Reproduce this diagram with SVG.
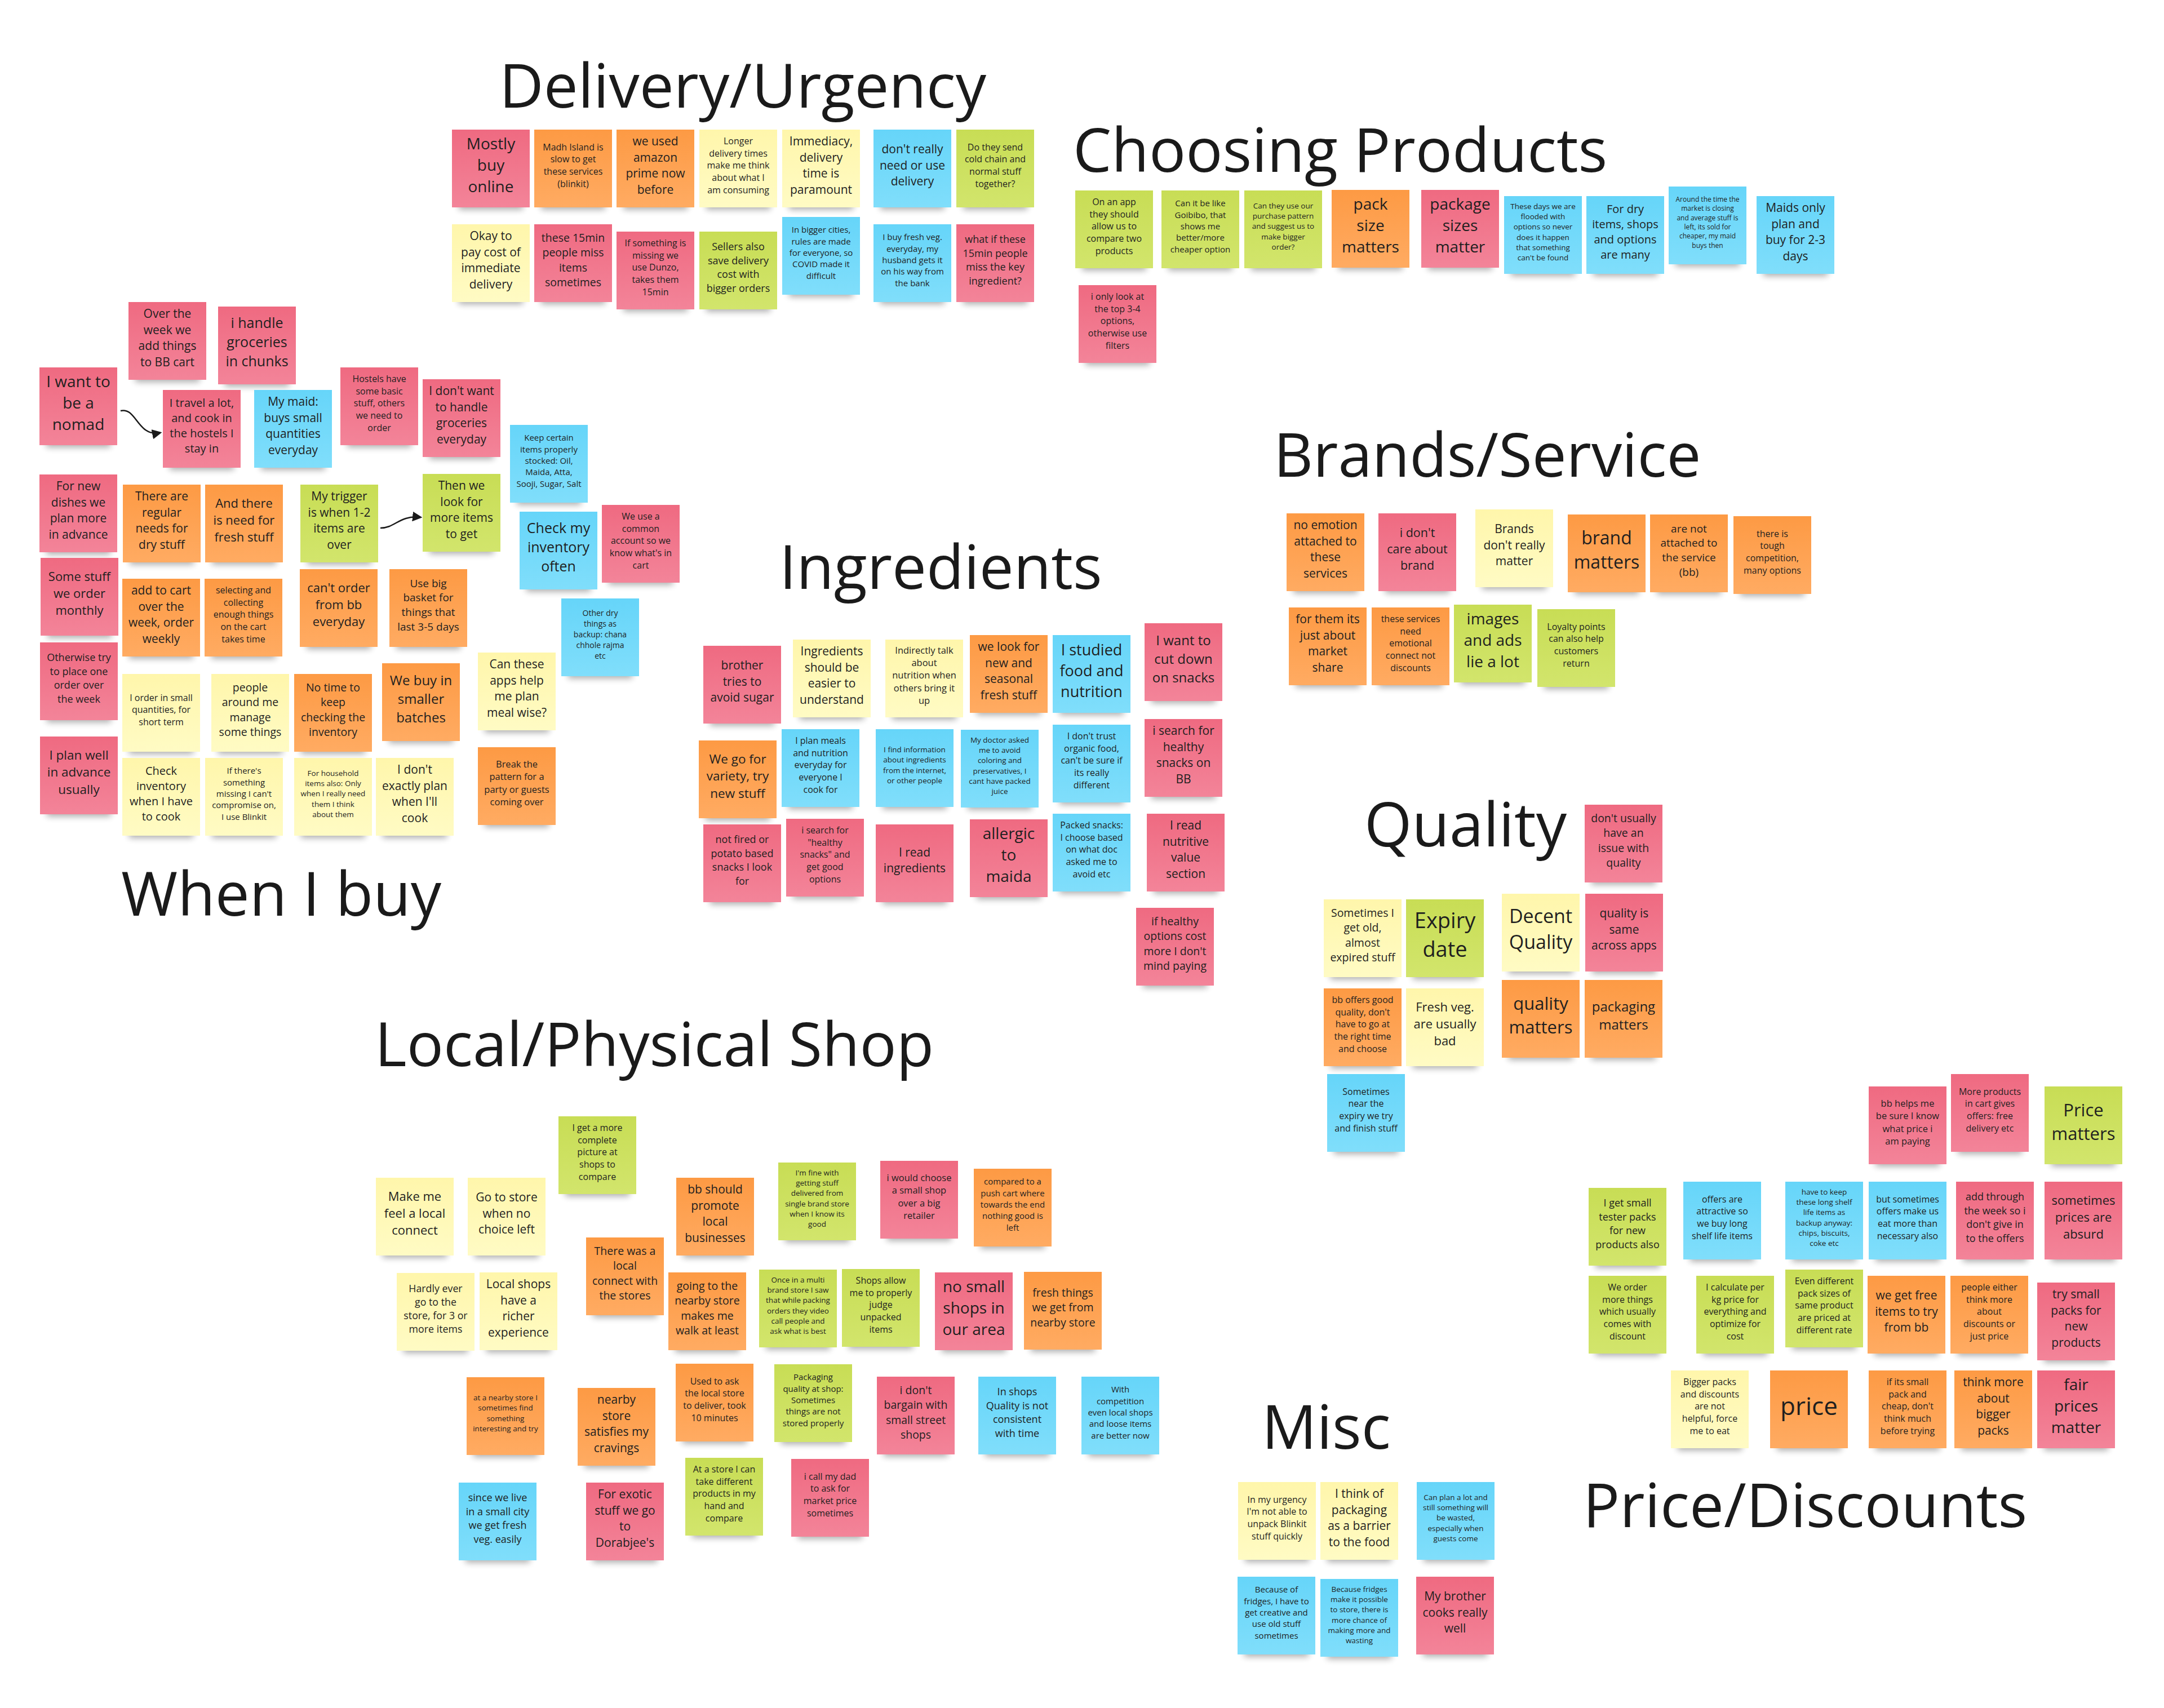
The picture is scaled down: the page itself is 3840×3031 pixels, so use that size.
<svg xmlns="http://www.w3.org/2000/svg" xmlns:xlink="http://www.w3.org/1999/xlink" width="3840" height="3031" viewBox="0 0 3840 3031">
<defs>
<linearGradient id="gR" x1="0" y1="0" x2="0" y2="1"><stop offset="0" stop-color="#ef6a81"/><stop offset="1" stop-color="#f38499"/></linearGradient>
<linearGradient id="gO" x1="0" y1="0" x2="0" y2="1"><stop offset="0" stop-color="#fd9a44"/><stop offset="1" stop-color="#ffab62"/></linearGradient>
<linearGradient id="gY" x1="0" y1="0" x2="0" y2="1"><stop offset="0" stop-color="#fff6ab"/><stop offset="1" stop-color="#fffbc4"/></linearGradient>
<linearGradient id="gG" x1="0" y1="0" x2="0" y2="1"><stop offset="0" stop-color="#c8dd55"/><stop offset="1" stop-color="#d2e56c"/></linearGradient>
<linearGradient id="gB" x1="0" y1="0" x2="0" y2="1"><stop offset="0" stop-color="#66d5f9"/><stop offset="1" stop-color="#80defb"/></linearGradient>
<filter id="blur" x="-20%" y="-100%" width="140%" height="300%"><feGaussianBlur stdDeviation="6"/></filter>
<rect id="sh" x="12" y="112" width="114" height="30" fill="#000" opacity="0.32" filter="url(#blur)"/>
<marker id="ah" viewBox="0 0 10 10" refX="8" refY="5" markerWidth="7" markerHeight="7" orient="auto" markerUnits="strokeWidth"><path d="M0,0 L10,5 L0,10 z" fill="#1a1a1a"/></marker>
</defs>
<style>
.R{fill:url(#gR)}.O{fill:url(#gO)}.Y{fill:url(#gY)}.G{fill:url(#gG)}.B{fill:url(#gB)}
text{font-family:"Open Sans","Noto Sans","Liberation Sans",sans-serif;fill:#1f1f1f;text-anchor:middle}
.title{font-size:108.5px;text-anchor:start;fill:#1a1a1a}
.c{fill:none;stroke:#1a1a1a;stroke-width:2.5;marker-end:url(#ah)}
</style>
<rect width="3840" height="3031" fill="#ffffff"/>

<g id="titles">
<text class="title" x="886" y="191">Delivery/Urgency</text>
<text class="title" x="1904" y="305">Choosing Products</text>
<text class="title" x="2260" y="846">Brands/Service</text>
<text class="title" x="1383" y="1045">Ingredients</text>
<text class="title" x="215" y="1625">When I buy</text>
<text class="title" x="2421" y="1502">Quality</text>
<text class="title" x="665" y="1892">Local/Physical Shop</text>
<text class="title" x="2239" y="2571">Misc</text>
<text class="title" x="2809" y="2710">Price/Discounts</text>
</g>

<g id="connectors">
<path class="c" d="M214,729 C242,722 244,776 284,768"/>
<path class="c" d="M675,937 C702,937 708,914 746,918"/>
</g>

<g id="delivery">
<g id="d1" transform="translate(802,230)"><use href="#sh"/><rect class="R" width="138" height="138"/><text x="69" y="64" font-size="28"><tspan x="69" dy="-1.03em">Mostly</tspan><tspan x="69" dy="1.36em">buy</tspan><tspan x="69" dy="1.36em">online</tspan></text></g>
<g id="d2" transform="translate(948,230)"><use href="#sh"/><rect class="O" width="138" height="138"/><text x="69" y="64" font-size="16"><tspan x="69" dy="-1.71em">Madh Island is</tspan><tspan x="69" dy="1.36em">slow to get</tspan><tspan x="69" dy="1.36em">these services</tspan><tspan x="69" dy="1.36em">(blinkit)</tspan></text></g>
<g id="d3" transform="translate(1094,230)"><use href="#sh"/><rect class="O" width="138" height="138"/><text x="69" y="64" font-size="21"><tspan x="69" dy="-1.71em">we used</tspan><tspan x="69" dy="1.36em">amazon</tspan><tspan x="69" dy="1.36em">prime now</tspan><tspan x="69" dy="1.36em">before</tspan></text></g>
<g id="d4" transform="translate(1241,230)"><use href="#sh"/><rect class="Y" width="138" height="138"/><text x="69" y="64" font-size="16"><tspan x="69" dy="-2.39em">Longer</tspan><tspan x="69" dy="1.36em">delivery times</tspan><tspan x="69" dy="1.36em">make me think</tspan><tspan x="69" dy="1.36em">about what I</tspan><tspan x="69" dy="1.36em">am consuming</tspan></text></g>
<g id="d5" transform="translate(1388,230)"><use href="#sh"/><rect class="Y" width="138" height="138"/><text x="69" y="64" font-size="21"><tspan x="69" dy="-1.71em">Immediacy,</tspan><tspan x="69" dy="1.36em">delivery</tspan><tspan x="69" dy="1.36em">time is</tspan><tspan x="69" dy="1.36em">paramount</tspan></text></g>
<g id="d6" transform="translate(1550,230)"><use href="#sh"/><rect class="B" width="138" height="138"/><text x="69" y="64" font-size="21"><tspan x="69" dy="-1.03em">don't really</tspan><tspan x="69" dy="1.36em">need or use</tspan><tspan x="69" dy="1.36em">delivery</tspan></text></g>
<g id="d7" transform="translate(1697,230)"><use href="#sh"/><rect class="G" width="138" height="138"/><text x="69" y="64" font-size="16"><tspan x="69" dy="-1.71em">Do they send</tspan><tspan x="69" dy="1.36em">cold chain and</tspan><tspan x="69" dy="1.36em">normal stuff</tspan><tspan x="69" dy="1.36em">together?</tspan></text></g>
<g id="d8" transform="translate(802,398)"><use href="#sh"/><rect class="Y" width="138" height="138"/><text x="69" y="64" font-size="21"><tspan x="69" dy="-1.71em">Okay  to</tspan><tspan x="69" dy="1.36em">pay cost of</tspan><tspan x="69" dy="1.36em">immediate</tspan><tspan x="69" dy="1.36em">delivery</tspan></text></g>
<g id="d9" transform="translate(948,398)"><use href="#sh"/><rect class="R" width="138" height="138"/><text x="69" y="64" font-size="19.5"><tspan x="69" dy="-1.71em">these 15min</tspan><tspan x="69" dy="1.36em">people miss</tspan><tspan x="69" dy="1.36em">items</tspan><tspan x="69" dy="1.36em">sometimes</tspan></text></g>
<g id="d10" transform="translate(1094,411)"><use href="#sh"/><rect class="R" width="138" height="138"/><text x="69" y="64" font-size="16"><tspan x="69" dy="-2.39em">If something is</tspan><tspan x="69" dy="1.36em">missing we</tspan><tspan x="69" dy="1.36em">use Dunzo,</tspan><tspan x="69" dy="1.36em">takes them</tspan><tspan x="69" dy="1.36em">15min</tspan></text></g>
<g id="d11" transform="translate(1241,411)"><use href="#sh"/><rect class="G" width="138" height="138"/><text x="69" y="64" font-size="18"><tspan x="69" dy="-1.71em">Sellers also</tspan><tspan x="69" dy="1.36em">save delivery</tspan><tspan x="69" dy="1.36em">cost with</tspan><tspan x="69" dy="1.36em">bigger orders</tspan></text></g>
<g id="d12" transform="translate(1388,385)"><use href="#sh"/><rect class="B" width="138" height="138"/><text x="69" y="64" font-size="15"><tspan x="69" dy="-2.39em">In bigger cities,</tspan><tspan x="69" dy="1.36em">rules are made</tspan><tspan x="69" dy="1.36em">for everyone, so</tspan><tspan x="69" dy="1.36em">COVID made it</tspan><tspan x="69" dy="1.36em">difficult</tspan></text></g>
<g id="d13" transform="translate(1550,398)"><use href="#sh"/><rect class="B" width="138" height="138"/><text x="69" y="64" font-size="15"><tspan x="69" dy="-2.39em">I buy fresh veg.</tspan><tspan x="69" dy="1.36em">everyday, my</tspan><tspan x="69" dy="1.36em">husband gets it</tspan><tspan x="69" dy="1.36em">on his way from</tspan><tspan x="69" dy="1.36em">the bank</tspan></text></g>
<g id="d14" transform="translate(1697,398)"><use href="#sh"/><rect class="R" width="138" height="138"/><text x="69" y="64" font-size="18"><tspan x="69" dy="-1.71em">what if these</tspan><tspan x="69" dy="1.36em">15min people</tspan><tspan x="69" dy="1.36em">miss the key</tspan><tspan x="69" dy="1.36em">ingredient?</tspan></text></g>
</g>

<g id="choosing">
<g id="c1" transform="translate(1908,338)"><use href="#sh"/><rect class="G" width="138" height="138"/><text x="69" y="64" font-size="16"><tspan x="69" dy="-2.39em">On an app</tspan><tspan x="69" dy="1.36em">they should</tspan><tspan x="69" dy="1.36em">allow us to</tspan><tspan x="69" dy="1.36em">compare two</tspan><tspan x="69" dy="1.36em">products</tspan></text></g>
<g id="c2" transform="translate(2061,338)"><use href="#sh"/><rect class="G" width="138" height="138"/><text x="69" y="64" font-size="15"><tspan x="69" dy="-2.39em">Can it be like</tspan><tspan x="69" dy="1.36em">Goibibo, that</tspan><tspan x="69" dy="1.36em">shows me</tspan><tspan x="69" dy="1.36em">better/more</tspan><tspan x="69" dy="1.36em">cheaper option</tspan></text></g>
<g id="c3" transform="translate(2208,338)"><use href="#sh"/><rect class="G" width="138" height="138"/><text x="69" y="64" font-size="13.5"><tspan x="69" dy="-2.39em">Can they use our</tspan><tspan x="69" dy="1.36em">purchase pattern</tspan><tspan x="69" dy="1.36em">and suggest us to</tspan><tspan x="69" dy="1.36em">make bigger</tspan><tspan x="69" dy="1.36em">order?</tspan></text></g>
<g id="c4" transform="translate(2363,337)"><use href="#sh"/><rect class="O" width="138" height="138"/><text x="69" y="64" font-size="28"><tspan x="69" dy="-1.03em">pack</tspan><tspan x="69" dy="1.36em">size</tspan><tspan x="69" dy="1.36em">matters</tspan></text></g>
<g id="c5" transform="translate(2522,337)"><use href="#sh"/><rect class="R" width="138" height="138"/><text x="69" y="64" font-size="28"><tspan x="69" dy="-1.03em">package</tspan><tspan x="69" dy="1.36em">sizes</tspan><tspan x="69" dy="1.36em">matter</tspan></text></g>
<g id="c6" transform="translate(2669,348)"><use href="#sh"/><rect class="B" width="138" height="138"/><text x="69" y="64" font-size="13.5"><tspan x="69" dy="-3.07em">These days we are</tspan><tspan x="69" dy="1.36em">flooded with</tspan><tspan x="69" dy="1.36em">options so never</tspan><tspan x="69" dy="1.36em">does it happen</tspan><tspan x="69" dy="1.36em">that something</tspan><tspan x="69" dy="1.36em">can't be found</tspan></text></g>
<g id="c7" transform="translate(2815,348)"><use href="#sh"/><rect class="B" width="138" height="138"/><text x="69" y="64" font-size="20"><tspan x="69" dy="-1.71em">For dry</tspan><tspan x="69" dy="1.36em">items, shops</tspan><tspan x="69" dy="1.36em">and options</tspan><tspan x="69" dy="1.36em">are many</tspan></text></g>
<g id="c8" transform="translate(2961,331)"><use href="#sh"/><rect class="B" width="138" height="138"/><text x="69" y="64" font-size="12"><tspan x="69" dy="-3.07em">Around the time the</tspan><tspan x="69" dy="1.36em">market is closing</tspan><tspan x="69" dy="1.36em">and average stuff is</tspan><tspan x="69" dy="1.36em">left, its sold for</tspan><tspan x="69" dy="1.36em">cheaper, my maid</tspan><tspan x="69" dy="1.36em">buys then</tspan></text></g>
<g id="c9" transform="translate(3117,348)"><use href="#sh"/><rect class="B" width="138" height="138"/><text x="69" y="64" font-size="21"><tspan x="69" dy="-1.71em">Maids only</tspan><tspan x="69" dy="1.36em">plan and</tspan><tspan x="69" dy="1.36em">buy for 2-3</tspan><tspan x="69" dy="1.36em">days</tspan></text></g>
<g id="c10" transform="translate(1914,506)"><use href="#sh"/><rect class="R" width="138" height="138"/><text x="69" y="64" font-size="16"><tspan x="69" dy="-2.39em">i only look at</tspan><tspan x="69" dy="1.36em">the top 3-4</tspan><tspan x="69" dy="1.36em">options,</tspan><tspan x="69" dy="1.36em">otherwise use</tspan><tspan x="69" dy="1.36em">filters</tspan></text></g>
</g>

<g id="whenibuy">
<g id="w1" transform="translate(228,536)"><use href="#sh"/><rect class="R" width="138" height="138"/><text x="69" y="64" font-size="21"><tspan x="69" dy="-1.71em">Over the</tspan><tspan x="69" dy="1.36em">week we</tspan><tspan x="69" dy="1.36em">add things</tspan><tspan x="69" dy="1.36em">to BB cart</tspan></text></g>
<g id="w2" transform="translate(387,544)"><use href="#sh"/><rect class="R" width="138" height="138"/><text x="69" y="64" font-size="25"><tspan x="69" dy="-1.03em">i handle</tspan><tspan x="69" dy="1.36em">groceries</tspan><tspan x="69" dy="1.36em">in chunks</tspan></text></g>
<g id="w3" transform="translate(70,652)"><use href="#sh"/><rect class="R" width="138" height="138"/><text x="69" y="64" font-size="28"><tspan x="69" dy="-1.03em">I want to</tspan><tspan x="69" dy="1.36em">be a</tspan><tspan x="69" dy="1.36em">nomad</tspan></text></g>
<g id="w4" transform="translate(289,692)"><use href="#sh"/><rect class="R" width="138" height="138"/><text x="69" y="64" font-size="20"><tspan x="69" dy="-1.71em">I travel a lot,</tspan><tspan x="69" dy="1.36em">and cook in</tspan><tspan x="69" dy="1.36em">the hostels I</tspan><tspan x="69" dy="1.36em">stay in</tspan></text></g>
<g id="w5" transform="translate(451,692)"><use href="#sh"/><rect class="B" width="138" height="138"/><text x="69" y="64" font-size="21"><tspan x="69" dy="-1.71em">My maid:</tspan><tspan x="69" dy="1.36em">buys small</tspan><tspan x="69" dy="1.36em">quantities</tspan><tspan x="69" dy="1.36em">everyday</tspan></text></g>
<g id="w6" transform="translate(604,652)"><use href="#sh"/><rect class="R" width="138" height="138"/><text x="69" y="64" font-size="16"><tspan x="69" dy="-2.39em">Hostels have</tspan><tspan x="69" dy="1.36em">some basic</tspan><tspan x="69" dy="1.36em">stuff, others</tspan><tspan x="69" dy="1.36em">we need to</tspan><tspan x="69" dy="1.36em">order</tspan></text></g>
<g id="w7" transform="translate(750,673)"><use href="#sh"/><rect class="R" width="138" height="138"/><text x="69" y="64" font-size="21"><tspan x="69" dy="-1.71em">I don't want</tspan><tspan x="69" dy="1.36em">to handle</tspan><tspan x="69" dy="1.36em">groceries</tspan><tspan x="69" dy="1.36em">everyday</tspan></text></g>
<g id="w8" transform="translate(905,754)"><use href="#sh"/><rect class="B" width="138" height="138"/><text x="69" y="64" font-size="15"><tspan x="69" dy="-2.39em">Keep certain</tspan><tspan x="69" dy="1.36em">items properly</tspan><tspan x="69" dy="1.36em">stocked: Oil,</tspan><tspan x="69" dy="1.36em">Maida, Atta,</tspan><tspan x="69" dy="1.36em">Sooji, Sugar, Salt</tspan></text></g>
<g id="w9" transform="translate(70,842)"><use href="#sh"/><rect class="R" width="138" height="138"/><text x="69" y="64" font-size="21"><tspan x="69" dy="-1.71em">For new</tspan><tspan x="69" dy="1.36em">dishes we</tspan><tspan x="69" dy="1.36em">plan more</tspan><tspan x="69" dy="1.36em">in advance</tspan></text></g>
<g id="w10" transform="translate(218,860)"><use href="#sh"/><rect class="O" width="138" height="138"/><text x="69" y="64" font-size="21"><tspan x="69" dy="-1.71em">There are</tspan><tspan x="69" dy="1.36em">regular</tspan><tspan x="69" dy="1.36em">needs for</tspan><tspan x="69" dy="1.36em">dry stuff</tspan></text></g>
<g id="w11" transform="translate(364,860)"><use href="#sh"/><rect class="O" width="138" height="138"/><text x="69" y="64" font-size="22"><tspan x="69" dy="-1.03em">And there</tspan><tspan x="69" dy="1.36em">is need for</tspan><tspan x="69" dy="1.36em">fresh stuff</tspan></text></g>
<g id="w12" transform="translate(533,860)"><use href="#sh"/><rect class="G" width="138" height="138"/><text x="69" y="64" font-size="21"><tspan x="69" dy="-1.71em">My trigger</tspan><tspan x="69" dy="1.36em">is when 1-2</tspan><tspan x="69" dy="1.36em">items are</tspan><tspan x="69" dy="1.36em">over</tspan></text></g>
<g id="w13" transform="translate(750,841)"><use href="#sh"/><rect class="G" width="138" height="138"/><text x="69" y="64" font-size="21"><tspan x="69" dy="-1.71em">Then we</tspan><tspan x="69" dy="1.36em">look for</tspan><tspan x="69" dy="1.36em">more items</tspan><tspan x="69" dy="1.36em">to get</tspan></text></g>
<g id="w14" transform="translate(922,908)"><use href="#sh"/><rect class="B" width="138" height="138"/><text x="69" y="64" font-size="25"><tspan x="69" dy="-1.03em">Check my</tspan><tspan x="69" dy="1.36em">inventory</tspan><tspan x="69" dy="1.36em">often</tspan></text></g>
<g id="w15" transform="translate(1068,896)"><use href="#sh"/><rect class="R" width="138" height="138"/><text x="69" y="64" font-size="16"><tspan x="69" dy="-2.39em">We use a</tspan><tspan x="69" dy="1.36em">common</tspan><tspan x="69" dy="1.36em">account so we</tspan><tspan x="69" dy="1.36em">know what's in</tspan><tspan x="69" dy="1.36em">cart</tspan></text></g>
<g id="w16" transform="translate(72,990)"><use href="#sh"/><rect class="R" width="138" height="138"/><text x="69" y="64" font-size="22"><tspan x="69" dy="-1.03em">Some stuff</tspan><tspan x="69" dy="1.36em">we order</tspan><tspan x="69" dy="1.36em">monthly</tspan></text></g>
<g id="w17" transform="translate(217,1027)"><use href="#sh"/><rect class="O" width="138" height="138"/><text x="69" y="64" font-size="21"><tspan x="69" dy="-1.71em">add to cart</tspan><tspan x="69" dy="1.36em">over the</tspan><tspan x="69" dy="1.36em">week, order</tspan><tspan x="69" dy="1.36em">weekly</tspan></text></g>
<g id="w18" transform="translate(363,1027)"><use href="#sh"/><rect class="O" width="138" height="138"/><text x="69" y="64" font-size="16"><tspan x="69" dy="-2.39em">selecting and</tspan><tspan x="69" dy="1.36em">collecting</tspan><tspan x="69" dy="1.36em">enough things</tspan><tspan x="69" dy="1.36em">on the cart</tspan><tspan x="69" dy="1.36em">takes time</tspan></text></g>
<g id="w19" transform="translate(532,1010)"><use href="#sh"/><rect class="O" width="138" height="138"/><text x="69" y="64" font-size="22"><tspan x="69" dy="-1.03em">can't order</tspan><tspan x="69" dy="1.36em">from bb</tspan><tspan x="69" dy="1.36em">everyday</tspan></text></g>
<g id="w20" transform="translate(691,1010)"><use href="#sh"/><rect class="O" width="138" height="138"/><text x="69" y="64" font-size="19"><tspan x="69" dy="-1.71em">Use big</tspan><tspan x="69" dy="1.36em">basket for</tspan><tspan x="69" dy="1.36em">things that</tspan><tspan x="69" dy="1.36em">last 3-5 days</tspan></text></g>
<g id="w21" transform="translate(996,1062)"><use href="#sh"/><rect class="B" width="138" height="138"/><text x="69" y="64" font-size="14"><tspan x="69" dy="-2.39em">Other dry</tspan><tspan x="69" dy="1.36em">things as</tspan><tspan x="69" dy="1.36em">backup: chana</tspan><tspan x="69" dy="1.36em">chhole rajma</tspan><tspan x="69" dy="1.36em">etc</tspan></text></g>
<g id="w22" transform="translate(71,1140)"><use href="#sh"/><rect class="R" width="138" height="138"/><text x="69" y="64" font-size="18"><tspan x="69" dy="-1.71em">Otherwise try</tspan><tspan x="69" dy="1.36em">to place one</tspan><tspan x="69" dy="1.36em">order over</tspan><tspan x="69" dy="1.36em">the week</tspan></text></g>
<g id="w23" transform="translate(217,1196)"><use href="#sh"/><rect class="Y" width="138" height="138"/><text x="69" y="64" font-size="16"><tspan x="69" dy="-1.03em">I order in small</tspan><tspan x="69" dy="1.36em">quantities, for</tspan><tspan x="69" dy="1.36em">short term</tspan></text></g>
<g id="w24" transform="translate(375,1196)"><use href="#sh"/><rect class="Y" width="138" height="138"/><text x="69" y="64" font-size="19.5"><tspan x="69" dy="-1.71em">people</tspan><tspan x="69" dy="1.36em">around me</tspan><tspan x="69" dy="1.36em">manage</tspan><tspan x="69" dy="1.36em">some things</tspan></text></g>
<g id="w25" transform="translate(522,1196)"><use href="#sh"/><rect class="O" width="138" height="138"/><text x="69" y="64" font-size="19.5"><tspan x="69" dy="-1.71em">No time to</tspan><tspan x="69" dy="1.36em">keep</tspan><tspan x="69" dy="1.36em">checking the</tspan><tspan x="69" dy="1.36em">inventory</tspan></text></g>
<g id="w26" transform="translate(678,1177)"><use href="#sh"/><rect class="O" width="138" height="138"/><text x="69" y="64" font-size="24"><tspan x="69" dy="-1.03em">We buy in</tspan><tspan x="69" dy="1.36em">smaller</tspan><tspan x="69" dy="1.36em">batches</tspan></text></g>
<g id="w27" transform="translate(848,1158)"><use href="#sh"/><rect class="Y" width="138" height="138"/><text x="69" y="64" font-size="21"><tspan x="69" dy="-1.71em">Can these</tspan><tspan x="69" dy="1.36em">apps help</tspan><tspan x="69" dy="1.36em">me plan</tspan><tspan x="69" dy="1.36em">meal wise?</tspan></text></g>
<g id="w28" transform="translate(71,1307)"><use href="#sh"/><rect class="R" width="138" height="138"/><text x="69" y="64" font-size="22.5"><tspan x="69" dy="-1.03em">I plan well</tspan><tspan x="69" dy="1.36em">in advance</tspan><tspan x="69" dy="1.36em">usually</tspan></text></g>
<g id="w29" transform="translate(217,1345)"><use href="#sh"/><rect class="Y" width="138" height="138"/><text x="69" y="64" font-size="20"><tspan x="69" dy="-1.71em">Check</tspan><tspan x="69" dy="1.36em">inventory</tspan><tspan x="69" dy="1.36em">when I have</tspan><tspan x="69" dy="1.36em">to cook</tspan></text></g>
<g id="w30" transform="translate(364,1345)"><use href="#sh"/><rect class="Y" width="138" height="138"/><text x="69" y="64" font-size="15"><tspan x="69" dy="-2.39em">If there's</tspan><tspan x="69" dy="1.36em">something</tspan><tspan x="69" dy="1.36em">missing I can't</tspan><tspan x="69" dy="1.36em">compromise on,</tspan><tspan x="69" dy="1.36em">I use Blinkit</tspan></text></g>
<g id="w31" transform="translate(522,1345)"><use href="#sh"/><rect class="Y" width="138" height="138"/><text x="69" y="64" font-size="13.5"><tspan x="69" dy="-2.39em">For household</tspan><tspan x="69" dy="1.36em">items also: Only</tspan><tspan x="69" dy="1.36em">when I really need</tspan><tspan x="69" dy="1.36em">them I think</tspan><tspan x="69" dy="1.36em">about them</tspan></text></g>
<g id="w32" transform="translate(667,1345)"><use href="#sh"/><rect class="Y" width="138" height="138"/><text x="69" y="64" font-size="21"><tspan x="69" dy="-1.71em">I don't</tspan><tspan x="69" dy="1.36em">exactly plan</tspan><tspan x="69" dy="1.36em">when I'll</tspan><tspan x="69" dy="1.36em">cook</tspan></text></g>
<g id="w33" transform="translate(848,1326)"><use href="#sh"/><rect class="O" width="138" height="138"/><text x="69" y="64" font-size="16.5"><tspan x="69" dy="-1.71em">Break the</tspan><tspan x="69" dy="1.36em">pattern for a</tspan><tspan x="69" dy="1.36em">party or guests</tspan><tspan x="69" dy="1.36em">coming over</tspan></text></g>
</g>

<g id="ingredients">
<g id="i1" transform="translate(1248,1146)"><use href="#sh"/><rect class="R" width="138" height="138"/><text x="69" y="64" font-size="21"><tspan x="69" dy="-1.03em">brother</tspan><tspan x="69" dy="1.36em">tries to</tspan><tspan x="69" dy="1.36em">avoid sugar</tspan></text></g>
<g id="i2" transform="translate(1407,1135)"><use href="#sh"/><rect class="Y" width="138" height="138"/><text x="69" y="64" font-size="21"><tspan x="69" dy="-1.71em">Ingredients</tspan><tspan x="69" dy="1.36em">should be</tspan><tspan x="69" dy="1.36em">easier to</tspan><tspan x="69" dy="1.36em">understand</tspan></text></g>
<g id="i3" transform="translate(1571,1135)"><use href="#sh"/><rect class="Y" width="138" height="138"/><text x="69" y="64" font-size="16.5"><tspan x="69" dy="-2.39em">Indirectly talk</tspan><tspan x="69" dy="1.36em">about</tspan><tspan x="69" dy="1.36em">nutrition when</tspan><tspan x="69" dy="1.36em">others bring it</tspan><tspan x="69" dy="1.36em">up</tspan></text></g>
<g id="i4" transform="translate(1721,1127)"><use href="#sh"/><rect class="O" width="138" height="138"/><text x="69" y="64" font-size="21"><tspan x="69" dy="-1.71em">we look for</tspan><tspan x="69" dy="1.36em">new and</tspan><tspan x="69" dy="1.36em">seasonal</tspan><tspan x="69" dy="1.36em">fresh stuff</tspan></text></g>
<g id="i5" transform="translate(1868,1127)"><use href="#sh"/><rect class="B" width="138" height="138"/><text x="69" y="64" font-size="27"><tspan x="69" dy="-1.03em">I studied</tspan><tspan x="69" dy="1.36em">food and</tspan><tspan x="69" dy="1.36em">nutrition</tspan></text></g>
<g id="i6" transform="translate(2031,1106)"><use href="#sh"/><rect class="R" width="138" height="138"/><text x="69" y="64" font-size="24"><tspan x="69" dy="-1.03em">I want to</tspan><tspan x="69" dy="1.36em">cut down</tspan><tspan x="69" dy="1.36em">on snacks</tspan></text></g>
<g id="i7" transform="translate(1240,1314)"><use href="#sh"/><rect class="O" width="138" height="138"/><text x="69" y="64" font-size="22.5"><tspan x="69" dy="-1.03em">We go for</tspan><tspan x="69" dy="1.36em">variety, try</tspan><tspan x="69" dy="1.36em">new stuff</tspan></text></g>
<g id="i8" transform="translate(1387,1294)"><use href="#sh"/><rect class="B" width="138" height="138"/><text x="69" y="64" font-size="16"><tspan x="69" dy="-2.39em">I plan meals</tspan><tspan x="69" dy="1.36em">and nutrition</tspan><tspan x="69" dy="1.36em">everyday for</tspan><tspan x="69" dy="1.36em">everyone I</tspan><tspan x="69" dy="1.36em">cook for</tspan></text></g>
<g id="i9" transform="translate(1554,1294)"><use href="#sh"/><rect class="B" width="138" height="138"/><text x="69" y="64" font-size="13.5"><tspan x="69" dy="-1.71em">I find information</tspan><tspan x="69" dy="1.36em">about ingredients</tspan><tspan x="69" dy="1.36em">from the internet,</tspan><tspan x="69" dy="1.36em">or other people</tspan></text></g>
<g id="i10" transform="translate(1705,1295)"><use href="#sh"/><rect class="B" width="138" height="138"/><text x="69" y="64" font-size="13.5"><tspan x="69" dy="-3.07em">My doctor asked</tspan><tspan x="69" dy="1.36em">me to avoid</tspan><tspan x="69" dy="1.36em">coloring and</tspan><tspan x="69" dy="1.36em">preservatives, I</tspan><tspan x="69" dy="1.36em">cant have packed</tspan><tspan x="69" dy="1.36em">juice</tspan></text></g>
<g id="i11" transform="translate(1868,1286)"><use href="#sh"/><rect class="B" width="138" height="138"/><text x="69" y="64" font-size="16"><tspan x="69" dy="-2.39em">I don't trust</tspan><tspan x="69" dy="1.36em">organic food,</tspan><tspan x="69" dy="1.36em">can't be sure if</tspan><tspan x="69" dy="1.36em">its really</tspan><tspan x="69" dy="1.36em">different</tspan></text></g>
<g id="i12" transform="translate(2031,1276)"><use href="#sh"/><rect class="R" width="138" height="138"/><text x="69" y="64" font-size="21"><tspan x="69" dy="-1.71em">i search for</tspan><tspan x="69" dy="1.36em">healthy</tspan><tspan x="69" dy="1.36em">snacks on</tspan><tspan x="69" dy="1.36em">BB</tspan></text></g>
<g id="i13" transform="translate(1248,1463)"><use href="#sh"/><rect class="R" width="138" height="138"/><text x="69" y="64" font-size="18"><tspan x="69" dy="-1.71em">not fired or</tspan><tspan x="69" dy="1.36em">potato based</tspan><tspan x="69" dy="1.36em">snacks I look</tspan><tspan x="69" dy="1.36em">for</tspan></text></g>
<g id="i14" transform="translate(1395,1453)"><use href="#sh"/><rect class="R" width="138" height="138"/><text x="69" y="64" font-size="16"><tspan x="69" dy="-2.39em">i search for</tspan><tspan x="69" dy="1.36em">"healthy</tspan><tspan x="69" dy="1.36em">snacks" and</tspan><tspan x="69" dy="1.36em">get good</tspan><tspan x="69" dy="1.36em">options</tspan></text></g>
<g id="i15" transform="translate(1554,1463)"><use href="#sh"/><rect class="R" width="138" height="138"/><text x="69" y="64" font-size="21"><tspan x="69" dy="-0.35em">I read</tspan><tspan x="69" dy="1.36em">ingredients</tspan></text></g>
<g id="i16" transform="translate(1721,1454)"><use href="#sh"/><rect class="R" width="138" height="138"/><text x="69" y="64" font-size="28"><tspan x="69" dy="-1.03em">allergic</tspan><tspan x="69" dy="1.36em">to</tspan><tspan x="69" dy="1.36em">maida</tspan></text></g>
<g id="i17" transform="translate(1868,1444)"><use href="#sh"/><rect class="B" width="138" height="138"/><text x="69" y="64" font-size="16"><tspan x="69" dy="-2.39em">Packed snacks:</tspan><tspan x="69" dy="1.36em">I choose based</tspan><tspan x="69" dy="1.36em">on what doc</tspan><tspan x="69" dy="1.36em">asked me to</tspan><tspan x="69" dy="1.36em">avoid etc</tspan></text></g>
<g id="i18" transform="translate(2035,1444)"><use href="#sh"/><rect class="R" width="138" height="138"/><text x="69" y="64" font-size="21"><tspan x="69" dy="-1.71em">I read</tspan><tspan x="69" dy="1.36em">nutritive</tspan><tspan x="69" dy="1.36em">value</tspan><tspan x="69" dy="1.36em">section</tspan></text></g>
<g id="i19" transform="translate(2016,1611)"><use href="#sh"/><rect class="R" width="138" height="138"/><text x="69" y="64" font-size="19.5"><tspan x="69" dy="-1.71em">if healthy</tspan><tspan x="69" dy="1.36em">options cost</tspan><tspan x="69" dy="1.36em">more I don't</tspan><tspan x="69" dy="1.36em">mind paying</tspan></text></g>
</g>

<g id="brands">
<g id="b1" transform="translate(2283,911)"><use href="#sh"/><rect class="O" width="138" height="138"/><text x="69" y="64" font-size="21"><tspan x="69" dy="-1.71em">no emotion</tspan><tspan x="69" dy="1.36em">attached to</tspan><tspan x="69" dy="1.36em">these</tspan><tspan x="69" dy="1.36em">services</tspan></text></g>
<g id="b2" transform="translate(2446,911)"><use href="#sh"/><rect class="R" width="138" height="138"/><text x="69" y="64" font-size="21.5"><tspan x="69" dy="-1.03em">i don't</tspan><tspan x="69" dy="1.36em">care about</tspan><tspan x="69" dy="1.36em">brand</tspan></text></g>
<g id="b3" transform="translate(2618,904)"><use href="#sh"/><rect class="Y" width="138" height="138"/><text x="69" y="64" font-size="21"><tspan x="69" dy="-1.03em">Brands</tspan><tspan x="69" dy="1.36em">don't really</tspan><tspan x="69" dy="1.36em">matter</tspan></text></g>
<g id="b4" transform="translate(2782,913)"><use href="#sh"/><rect class="O" width="138" height="138"/><text x="69" y="64" font-size="32"><tspan x="69" dy="-0.35em">brand</tspan><tspan x="69" dy="1.36em">matters</tspan></text></g>
<g id="b5" transform="translate(2928,913)"><use href="#sh"/><rect class="O" width="138" height="138"/><text x="69" y="64" font-size="19"><tspan x="69" dy="-1.71em">are not</tspan><tspan x="69" dy="1.36em">attached to</tspan><tspan x="69" dy="1.36em">the service</tspan><tspan x="69" dy="1.36em">(bb)</tspan></text></g>
<g id="b6" transform="translate(3076,916)"><use href="#sh"/><rect class="O" width="138" height="138"/><text x="69" y="64" font-size="16"><tspan x="69" dy="-1.71em">there is</tspan><tspan x="69" dy="1.36em">tough</tspan><tspan x="69" dy="1.36em">competition,</tspan><tspan x="69" dy="1.36em">many options</tspan></text></g>
<g id="b7" transform="translate(2287,1078)"><use href="#sh"/><rect class="O" width="138" height="138"/><text x="69" y="64" font-size="21"><tspan x="69" dy="-1.71em">for them its</tspan><tspan x="69" dy="1.36em">just about</tspan><tspan x="69" dy="1.36em">market</tspan><tspan x="69" dy="1.36em">share</tspan></text></g>
<g id="b8" transform="translate(2434,1078)"><use href="#sh"/><rect class="O" width="138" height="138"/><text x="69" y="64" font-size="16"><tspan x="69" dy="-2.39em">these services</tspan><tspan x="69" dy="1.36em">need</tspan><tspan x="69" dy="1.36em">emotional</tspan><tspan x="69" dy="1.36em">connect not</tspan><tspan x="69" dy="1.36em">discounts</tspan></text></g>
<g id="b9" transform="translate(2580,1073)"><use href="#sh"/><rect class="G" width="138" height="138"/><text x="69" y="64" font-size="28"><tspan x="69" dy="-1.03em">images</tspan><tspan x="69" dy="1.36em">and ads</tspan><tspan x="69" dy="1.36em">lie a lot</tspan></text></g>
<g id="b10" transform="translate(2728,1081)"><use href="#sh"/><rect class="G" width="138" height="138"/><text x="69" y="64" font-size="16"><tspan x="69" dy="-1.71em">Loyalty points</tspan><tspan x="69" dy="1.36em">can also help</tspan><tspan x="69" dy="1.36em">customers</tspan><tspan x="69" dy="1.36em">return</tspan></text></g>
</g>

<g id="quality">
<g id="q1" transform="translate(2812,1428)"><use href="#sh"/><rect class="R" width="138" height="138"/><text x="69" y="64" font-size="19.5"><tspan x="69" dy="-1.71em">don't usually</tspan><tspan x="69" dy="1.36em">have an</tspan><tspan x="69" dy="1.36em">issue with</tspan><tspan x="69" dy="1.36em">quality</tspan></text></g>
<g id="q2" transform="translate(2349,1596)"><use href="#sh"/><rect class="Y" width="138" height="138"/><text x="69" y="64" font-size="19.5"><tspan x="69" dy="-1.71em">Sometimes I</tspan><tspan x="69" dy="1.36em">get old,</tspan><tspan x="69" dy="1.36em">almost</tspan><tspan x="69" dy="1.36em">expired stuff</tspan></text></g>
<g id="q3" transform="translate(2495,1596)"><use href="#sh"/><rect class="G" width="138" height="138"/><text x="69" y="64" font-size="38"><tspan x="69" dy="-0.35em">Expiry</tspan><tspan x="69" dy="1.36em">date</tspan></text></g>
<g id="q4" transform="translate(2665,1586)"><use href="#sh"/><rect class="Y" width="138" height="138"/><text x="69" y="64" font-size="34"><tspan x="69" dy="-0.35em">Decent</tspan><tspan x="69" dy="1.36em">Quality</tspan></text></g>
<g id="q5" transform="translate(2813,1586)"><use href="#sh"/><rect class="R" width="138" height="138"/><text x="69" y="64" font-size="21"><tspan x="69" dy="-1.03em">quality is</tspan><tspan x="69" dy="1.36em">same</tspan><tspan x="69" dy="1.36em">across apps</tspan></text></g>
<g id="q6" transform="translate(2349,1754)"><use href="#sh"/><rect class="O" width="138" height="138"/><text x="69" y="64" font-size="16"><tspan x="69" dy="-2.39em">bb offers good</tspan><tspan x="69" dy="1.36em">quality, don't</tspan><tspan x="69" dy="1.36em">have to go at</tspan><tspan x="69" dy="1.36em">the right time</tspan><tspan x="69" dy="1.36em">and choose</tspan></text></g>
<g id="q7" transform="translate(2495,1754)"><use href="#sh"/><rect class="Y" width="138" height="138"/><text x="69" y="64" font-size="22"><tspan x="69" dy="-1.03em">Fresh veg.</tspan><tspan x="69" dy="1.36em">are usually</tspan><tspan x="69" dy="1.36em">bad</tspan></text></g>
<g id="q8" transform="translate(2665,1739)"><use href="#sh"/><rect class="O" width="138" height="138"/><text x="69" y="64" font-size="31"><tspan x="69" dy="-0.35em">quality</tspan><tspan x="69" dy="1.36em">matters</tspan></text></g>
<g id="q9" transform="translate(2812,1739)"><use href="#sh"/><rect class="O" width="138" height="138"/><text x="69" y="64" font-size="24"><tspan x="69" dy="-0.35em">packaging</tspan><tspan x="69" dy="1.36em">matters</tspan></text></g>
<g id="q10" transform="translate(2355,1906)"><use href="#sh"/><rect class="B" width="138" height="138"/><text x="69" y="64" font-size="16"><tspan x="69" dy="-1.71em">Sometimes</tspan><tspan x="69" dy="1.36em">near the</tspan><tspan x="69" dy="1.36em">expiry we try</tspan><tspan x="69" dy="1.36em">and finish stuff</tspan></text></g>
</g>

<g id="localshop">
<g id="l1" transform="translate(991,1981)"><use href="#sh"/><rect class="G" width="138" height="138"/><text x="69" y="64" font-size="16"><tspan x="69" dy="-2.39em">I get a more</tspan><tspan x="69" dy="1.36em">complete</tspan><tspan x="69" dy="1.36em">picture at</tspan><tspan x="69" dy="1.36em">shops to</tspan><tspan x="69" dy="1.36em">compare</tspan></text></g>
<g id="l2" transform="translate(667,2090)"><use href="#sh"/><rect class="Y" width="138" height="138"/><text x="69" y="64" font-size="22"><tspan x="69" dy="-1.03em">Make me</tspan><tspan x="69" dy="1.36em">feel a local</tspan><tspan x="69" dy="1.36em">connect</tspan></text></g>
<g id="l3" transform="translate(830,2090)"><use href="#sh"/><rect class="Y" width="138" height="138"/><text x="69" y="64" font-size="21"><tspan x="69" dy="-1.03em">Go to store</tspan><tspan x="69" dy="1.36em">when no</tspan><tspan x="69" dy="1.36em">choice left</tspan></text></g>
<g id="l4" transform="translate(1200,2090)"><use href="#sh"/><rect class="O" width="138" height="138"/><text x="69" y="64" font-size="21"><tspan x="69" dy="-1.71em">bb should</tspan><tspan x="69" dy="1.36em">promote</tspan><tspan x="69" dy="1.36em">local</tspan><tspan x="69" dy="1.36em">businesses</tspan></text></g>
<g id="l5" transform="translate(1040,2196)"><use href="#sh"/><rect class="O" width="138" height="138"/><text x="69" y="64" font-size="19.5"><tspan x="69" dy="-1.71em">There was a</tspan><tspan x="69" dy="1.36em">local</tspan><tspan x="69" dy="1.36em">connect with</tspan><tspan x="69" dy="1.36em">the stores</tspan></text></g>
<g id="l6" transform="translate(704,2259)"><use href="#sh"/><rect class="Y" width="138" height="138"/><text x="69" y="64" font-size="17.8"><tspan x="69" dy="-1.71em">Hardly ever</tspan><tspan x="69" dy="1.36em">go to the</tspan><tspan x="69" dy="1.36em">store, for 3 or</tspan><tspan x="69" dy="1.36em">more items</tspan></text></g>
<g id="l7" transform="translate(851,2258)"><use href="#sh"/><rect class="Y" width="138" height="138"/><text x="69" y="64" font-size="21"><tspan x="69" dy="-1.71em">Local shops</tspan><tspan x="69" dy="1.36em">have a</tspan><tspan x="69" dy="1.36em">richer</tspan><tspan x="69" dy="1.36em">experience</tspan></text></g>
<g id="l8" transform="translate(1186,2258)"><use href="#sh"/><rect class="O" width="138" height="138"/><text x="69" y="64" font-size="19.5"><tspan x="69" dy="-1.71em">going to the</tspan><tspan x="69" dy="1.36em">nearby store</tspan><tspan x="69" dy="1.36em">makes me</tspan><tspan x="69" dy="1.36em">walk at least</tspan></text></g>
<g id="l9" transform="translate(828,2444)"><use href="#sh"/><rect class="O" width="138" height="138"/><text x="69" y="64" font-size="13.5"><tspan x="69" dy="-1.71em">at a nearby store I</tspan><tspan x="69" dy="1.36em">sometimes find</tspan><tspan x="69" dy="1.36em">something</tspan><tspan x="69" dy="1.36em">interesting and try</tspan></text></g>
<g id="l10" transform="translate(1025,2463)"><use href="#sh"/><rect class="O" width="138" height="138"/><text x="69" y="64" font-size="21"><tspan x="69" dy="-1.71em">nearby</tspan><tspan x="69" dy="1.36em">store</tspan><tspan x="69" dy="1.36em">satisfies my</tspan><tspan x="69" dy="1.36em">cravings</tspan></text></g>
<g id="l11" transform="translate(1199,2420)"><use href="#sh"/><rect class="O" width="138" height="138"/><text x="69" y="64" font-size="16"><tspan x="69" dy="-1.71em">Used to ask</tspan><tspan x="69" dy="1.36em">the local store</tspan><tspan x="69" dy="1.36em">to deliver, took</tspan><tspan x="69" dy="1.36em">10 minutes</tspan></text></g>
<g id="l12" transform="translate(814,2631)"><use href="#sh"/><rect class="B" width="138" height="138"/><text x="69" y="64" font-size="18"><tspan x="69" dy="-1.71em">since we live</tspan><tspan x="69" dy="1.36em">in a small city</tspan><tspan x="69" dy="1.36em">we get fresh</tspan><tspan x="69" dy="1.36em">veg. easily</tspan></text></g>
<g id="l13" transform="translate(1040,2631)"><use href="#sh"/><rect class="R" width="138" height="138"/><text x="69" y="64" font-size="21"><tspan x="69" dy="-1.71em">For exotic</tspan><tspan x="69" dy="1.36em">stuff we go</tspan><tspan x="69" dy="1.36em">to</tspan><tspan x="69" dy="1.36em">Dorabjee's</tspan></text></g>
<g id="l14" transform="translate(1216,2587)"><use href="#sh"/><rect class="G" width="138" height="138"/><text x="69" y="64" font-size="16"><tspan x="69" dy="-2.39em">At a store I can</tspan><tspan x="69" dy="1.36em">take different</tspan><tspan x="69" dy="1.36em">products in my</tspan><tspan x="69" dy="1.36em">hand and</tspan><tspan x="69" dy="1.36em">compare</tspan></text></g>
<g id="l15" transform="translate(1381,2063)"><use href="#sh"/><rect class="G" width="138" height="138"/><text x="69" y="64" font-size="13.5"><tspan x="69" dy="-3.07em">I'm fine with</tspan><tspan x="69" dy="1.36em">getting stuff</tspan><tspan x="69" dy="1.36em">delivered from</tspan><tspan x="69" dy="1.36em">single brand store</tspan><tspan x="69" dy="1.36em">when I know its</tspan><tspan x="69" dy="1.36em">good</tspan></text></g>
<g id="l16" transform="translate(1562,2060)"><use href="#sh"/><rect class="R" width="138" height="138"/><text x="69" y="64" font-size="16.5"><tspan x="69" dy="-1.71em">i would choose</tspan><tspan x="69" dy="1.36em">a small shop</tspan><tspan x="69" dy="1.36em">over a big</tspan><tspan x="69" dy="1.36em">retailer</tspan></text></g>
<g id="l17" transform="translate(1728,2074)"><use href="#sh"/><rect class="O" width="138" height="138"/><text x="69" y="64" font-size="15"><tspan x="69" dy="-2.39em">compared to a</tspan><tspan x="69" dy="1.36em">push cart where</tspan><tspan x="69" dy="1.36em">towards the end</tspan><tspan x="69" dy="1.36em">nothing good is</tspan><tspan x="69" dy="1.36em">left</tspan></text></g>
<g id="l18" transform="translate(1347,2253)"><use href="#sh"/><rect class="G" width="138" height="138"/><text x="69" y="64" font-size="13.5"><tspan x="69" dy="-3.07em">Once in a multi</tspan><tspan x="69" dy="1.36em">brand store I saw</tspan><tspan x="69" dy="1.36em">that while packing</tspan><tspan x="69" dy="1.36em">orders they video</tspan><tspan x="69" dy="1.36em">call people and</tspan><tspan x="69" dy="1.36em">ask what is best</tspan></text></g>
<g id="l19" transform="translate(1494,2252)"><use href="#sh"/><rect class="G" width="138" height="138"/><text x="69" y="64" font-size="16"><tspan x="69" dy="-2.39em">Shops allow</tspan><tspan x="69" dy="1.36em">me to properly</tspan><tspan x="69" dy="1.36em">judge</tspan><tspan x="69" dy="1.36em">unpacked</tspan><tspan x="69" dy="1.36em">items</tspan></text></g>
<g id="l20" transform="translate(1659,2258)"><use href="#sh"/><rect class="R" width="138" height="138"/><text x="69" y="64" font-size="28"><tspan x="69" dy="-1.03em">no small</tspan><tspan x="69" dy="1.36em">shops in</tspan><tspan x="69" dy="1.36em">our area</tspan></text></g>
<g id="l21" transform="translate(1817,2257)"><use href="#sh"/><rect class="O" width="138" height="138"/><text x="69" y="64" font-size="19.5"><tspan x="69" dy="-1.03em">fresh things</tspan><tspan x="69" dy="1.36em">we get from</tspan><tspan x="69" dy="1.36em">nearby store</tspan></text></g>
<g id="l22" transform="translate(1374,2421)"><use href="#sh"/><rect class="G" width="138" height="138"/><text x="69" y="64" font-size="15"><tspan x="69" dy="-2.39em">Packaging</tspan><tspan x="69" dy="1.36em">quality at shop:</tspan><tspan x="69" dy="1.36em">Sometimes</tspan><tspan x="69" dy="1.36em">things are not</tspan><tspan x="69" dy="1.36em">stored properly</tspan></text></g>
<g id="l23" transform="translate(1556,2443)"><use href="#sh"/><rect class="R" width="138" height="138"/><text x="69" y="64" font-size="19.5"><tspan x="69" dy="-1.71em">i don't</tspan><tspan x="69" dy="1.36em">bargain with</tspan><tspan x="69" dy="1.36em">small street</tspan><tspan x="69" dy="1.36em">shops</tspan></text></g>
<g id="l24" transform="translate(1736,2443)"><use href="#sh"/><rect class="B" width="138" height="138"/><text x="69" y="64" font-size="18"><tspan x="69" dy="-1.71em">In shops</tspan><tspan x="69" dy="1.36em">Quality is not</tspan><tspan x="69" dy="1.36em">consistent</tspan><tspan x="69" dy="1.36em">with time</tspan></text></g>
<g id="l25" transform="translate(1919,2443)"><use href="#sh"/><rect class="B" width="138" height="138"/><text x="69" y="64" font-size="15"><tspan x="69" dy="-2.39em">With</tspan><tspan x="69" dy="1.36em">competition</tspan><tspan x="69" dy="1.36em">even local shops</tspan><tspan x="69" dy="1.36em">and loose items</tspan><tspan x="69" dy="1.36em">are better now</tspan></text></g>
<g id="l26" transform="translate(1404,2589)"><use href="#sh"/><rect class="R" width="138" height="138"/><text x="69" y="64" font-size="16"><tspan x="69" dy="-1.71em">i call my dad</tspan><tspan x="69" dy="1.36em">to ask for</tspan><tspan x="69" dy="1.36em">market price</tspan><tspan x="69" dy="1.36em">sometimes</tspan></text></g>
</g>

<g id="misc">
<g id="m1" transform="translate(2197,2630)"><use href="#sh"/><rect class="Y" width="138" height="138"/><text x="69" y="64" font-size="16"><tspan x="69" dy="-1.71em">In my urgency</tspan><tspan x="69" dy="1.36em">I'm not able to</tspan><tspan x="69" dy="1.36em">unpack Blinkit</tspan><tspan x="69" dy="1.36em">stuff quickly</tspan></text></g>
<g id="m2" transform="translate(2343,2630)"><use href="#sh"/><rect class="Y" width="138" height="138"/><text x="69" y="64" font-size="21"><tspan x="69" dy="-1.71em">I think of</tspan><tspan x="69" dy="1.36em">packaging</tspan><tspan x="69" dy="1.36em">as a barrier</tspan><tspan x="69" dy="1.36em">to the food</tspan></text></g>
<g id="m3" transform="translate(2514,2630)"><use href="#sh"/><rect class="B" width="138" height="138"/><text x="69" y="64" font-size="13.5"><tspan x="69" dy="-2.39em">Can plan a lot and</tspan><tspan x="69" dy="1.36em">still something will</tspan><tspan x="69" dy="1.36em">be wasted,</tspan><tspan x="69" dy="1.36em">especially when</tspan><tspan x="69" dy="1.36em">guests come</tspan></text></g>
<g id="m4" transform="translate(2196,2798)"><use href="#sh"/><rect class="B" width="138" height="138"/><text x="69" y="64" font-size="15"><tspan x="69" dy="-2.39em">Because of</tspan><tspan x="69" dy="1.36em">fridges, I have to</tspan><tspan x="69" dy="1.36em">get creative and</tspan><tspan x="69" dy="1.36em">use old stuff</tspan><tspan x="69" dy="1.36em">sometimes</tspan></text></g>
<g id="m5" transform="translate(2343,2802)"><use href="#sh"/><rect class="B" width="138" height="138"/><text x="69" y="64" font-size="13.5"><tspan x="69" dy="-3.07em">Because fridges</tspan><tspan x="69" dy="1.36em">make it possible</tspan><tspan x="69" dy="1.36em">to store, there is</tspan><tspan x="69" dy="1.36em">more chance of</tspan><tspan x="69" dy="1.36em">making more and</tspan><tspan x="69" dy="1.36em">wasting</tspan></text></g>
<g id="m6" transform="translate(2513,2798)"><use href="#sh"/><rect class="R" width="138" height="138"/><text x="69" y="64" font-size="21"><tspan x="69" dy="-1.03em">My brother</tspan><tspan x="69" dy="1.36em">cooks really</tspan><tspan x="69" dy="1.36em">well</tspan></text></g>
</g>

<g id="price">
<g id="p1" transform="translate(3316,1928)"><use href="#sh"/><rect class="R" width="138" height="138"/><text x="69" y="64" font-size="16.5"><tspan x="69" dy="-1.71em">bb helps me</tspan><tspan x="69" dy="1.36em">be sure I know</tspan><tspan x="69" dy="1.36em">what price i</tspan><tspan x="69" dy="1.36em">am paying</tspan></text></g>
<g id="p2" transform="translate(3462,1906)"><use href="#sh"/><rect class="R" width="138" height="138"/><text x="69" y="64" font-size="16"><tspan x="69" dy="-1.71em">More products</tspan><tspan x="69" dy="1.36em">in cart gives</tspan><tspan x="69" dy="1.36em">offers: free</tspan><tspan x="69" dy="1.36em">delivery etc</tspan></text></g>
<g id="p3" transform="translate(3628,1928)"><use href="#sh"/><rect class="G" width="138" height="138"/><text x="69" y="64" font-size="31"><tspan x="69" dy="-0.35em">Price</tspan><tspan x="69" dy="1.36em">matters</tspan></text></g>
<g id="p4" transform="translate(2819,2108)"><use href="#sh"/><rect class="G" width="138" height="138"/><text x="69" y="64" font-size="18"><tspan x="69" dy="-1.71em">I get small</tspan><tspan x="69" dy="1.36em">tester packs</tspan><tspan x="69" dy="1.36em">for new</tspan><tspan x="69" dy="1.36em">products also</tspan></text></g>
<g id="p5" transform="translate(2987,2097)"><use href="#sh"/><rect class="B" width="138" height="138"/><text x="69" y="64" font-size="16"><tspan x="69" dy="-1.71em">offers are</tspan><tspan x="69" dy="1.36em">attractive so</tspan><tspan x="69" dy="1.36em">we buy long</tspan><tspan x="69" dy="1.36em">shelf life items</tspan></text></g>
<g id="p6" transform="translate(3168,2097)"><use href="#sh"/><rect class="B" width="138" height="138"/><text x="69" y="64" font-size="13.5"><tspan x="69" dy="-3.07em">have to keep</tspan><tspan x="69" dy="1.36em">these long shelf</tspan><tspan x="69" dy="1.36em">life items as</tspan><tspan x="69" dy="1.36em">backup anyway:</tspan><tspan x="69" dy="1.36em">chips, biscuits,</tspan><tspan x="69" dy="1.36em">coke etc</tspan></text></g>
<g id="p7" transform="translate(3316,2097)"><use href="#sh"/><rect class="B" width="138" height="138"/><text x="69" y="64" font-size="16"><tspan x="69" dy="-1.71em">but sometimes</tspan><tspan x="69" dy="1.36em">offers make us</tspan><tspan x="69" dy="1.36em">eat more than</tspan><tspan x="69" dy="1.36em">necessary also</tspan></text></g>
<g id="p8" transform="translate(3471,2097)"><use href="#sh"/><rect class="R" width="138" height="138"/><text x="69" y="64" font-size="18"><tspan x="69" dy="-1.71em">add through</tspan><tspan x="69" dy="1.36em">the week so i</tspan><tspan x="69" dy="1.36em">don't give in</tspan><tspan x="69" dy="1.36em">to the offers</tspan></text></g>
<g id="p9" transform="translate(3628,2097)"><use href="#sh"/><rect class="R" width="138" height="138"/><text x="69" y="64" font-size="22"><tspan x="69" dy="-1.03em">sometimes</tspan><tspan x="69" dy="1.36em">prices are</tspan><tspan x="69" dy="1.36em">absurd</tspan></text></g>
<g id="p10" transform="translate(2819,2264)"><use href="#sh"/><rect class="G" width="138" height="138"/><text x="69" y="64" font-size="16"><tspan x="69" dy="-2.39em">We order</tspan><tspan x="69" dy="1.36em">more things</tspan><tspan x="69" dy="1.36em">which usually</tspan><tspan x="69" dy="1.36em">comes with</tspan><tspan x="69" dy="1.36em">discount</tspan></text></g>
<g id="p11" transform="translate(3010,2264)"><use href="#sh"/><rect class="G" width="138" height="138"/><text x="69" y="64" font-size="16"><tspan x="69" dy="-2.39em">I calculate per</tspan><tspan x="69" dy="1.36em">kg price for</tspan><tspan x="69" dy="1.36em">everything and</tspan><tspan x="69" dy="1.36em">optimize for</tspan><tspan x="69" dy="1.36em">cost</tspan></text></g>
<g id="p12" transform="translate(3168,2253)"><use href="#sh"/><rect class="G" width="138" height="138"/><text x="69" y="64" font-size="16"><tspan x="69" dy="-2.39em">Even different</tspan><tspan x="69" dy="1.36em">pack sizes of</tspan><tspan x="69" dy="1.36em">same product</tspan><tspan x="69" dy="1.36em">are priced at</tspan><tspan x="69" dy="1.36em">different rate</tspan></text></g>
<g id="p13" transform="translate(3314,2264)"><use href="#sh"/><rect class="O" width="138" height="138"/><text x="69" y="64" font-size="21"><tspan x="69" dy="-1.03em">we get free</tspan><tspan x="69" dy="1.36em">items to try</tspan><tspan x="69" dy="1.36em">from bb</tspan></text></g>
<g id="p14" transform="translate(3461,2264)"><use href="#sh"/><rect class="O" width="138" height="138"/><text x="69" y="64" font-size="16"><tspan x="69" dy="-2.39em">people either</tspan><tspan x="69" dy="1.36em">think more</tspan><tspan x="69" dy="1.36em">about</tspan><tspan x="69" dy="1.36em">discounts or</tspan><tspan x="69" dy="1.36em">just price</tspan></text></g>
<g id="p15" transform="translate(3615,2276)"><use href="#sh"/><rect class="R" width="138" height="138"/><text x="69" y="64" font-size="21"><tspan x="69" dy="-1.71em">try small</tspan><tspan x="69" dy="1.36em">packs for</tspan><tspan x="69" dy="1.36em">new</tspan><tspan x="69" dy="1.36em">products</tspan></text></g>
<g id="p16" transform="translate(2965,2432)"><use href="#sh"/><rect class="Y" width="138" height="138"/><text x="69" y="64" font-size="16"><tspan x="69" dy="-2.39em">Bigger packs</tspan><tspan x="69" dy="1.36em">and discounts</tspan><tspan x="69" dy="1.36em">are not</tspan><tspan x="69" dy="1.36em">helpful, force</tspan><tspan x="69" dy="1.36em">me to eat</tspan></text></g>
<g id="p17" transform="translate(3141,2432)"><use href="#sh"/><rect class="O" width="138" height="138"/><text x="69" y="64" font-size="44"><tspan x="69" dy="0.33em">price</tspan></text></g>
<g id="p18" transform="translate(3316,2432)"><use href="#sh"/><rect class="O" width="138" height="138"/><text x="69" y="64" font-size="16"><tspan x="69" dy="-2.39em">if its small</tspan><tspan x="69" dy="1.36em">pack and</tspan><tspan x="69" dy="1.36em">cheap, don't</tspan><tspan x="69" dy="1.36em">think much</tspan><tspan x="69" dy="1.36em">before trying</tspan></text></g>
<g id="p19" transform="translate(3468,2432)"><use href="#sh"/><rect class="O" width="138" height="138"/><text x="69" y="64" font-size="21"><tspan x="69" dy="-1.71em">think more</tspan><tspan x="69" dy="1.36em">about</tspan><tspan x="69" dy="1.36em">bigger</tspan><tspan x="69" dy="1.36em">packs</tspan></text></g>
<g id="p20" transform="translate(3615,2432)"><use href="#sh"/><rect class="R" width="138" height="138"/><text x="69" y="64" font-size="28"><tspan x="69" dy="-1.03em">fair</tspan><tspan x="69" dy="1.36em">prices</tspan><tspan x="69" dy="1.36em">matter</tspan></text></g>
</g>
</svg>
